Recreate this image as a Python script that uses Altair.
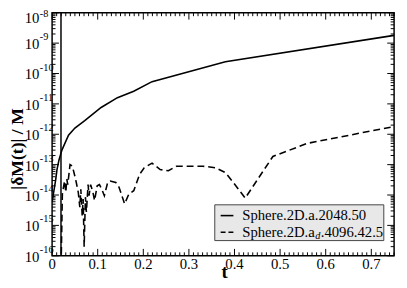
import altair as alt
import pandas as pd

# ---- data ----
solid_t = [0.000, 0.008, 0.0107, 0.015, 0.0215, 0.036, 0.050, 0.0716, 0.1075,
           0.1433, 0.179, 0.2192, 0.380, 0.750]
solid_v = [5.9e-15, 3.3e-14, 6.9e-14, 1.4e-13, 3.0e-13, 9.3e-13, 1.6e-12, 2.8e-12,
           7.6e-12, 1.6e-11, 2.6e-11, 5.4e-11, 2.45e-10, 1.8e-9]

dashed_t = [0.0190, 0.0225, 0.0273, 0.0301, 0.0322, 0.0344, 0.0393, 0.0445, 0.0516,
            0.0574, 0.0608, 0.0630, 0.0660, 0.0681, 0.0703, 0.0731, 0.0752, 0.0789,
            0.0810, 0.0845, 0.0896, 0.0931, 0.0989, 0.1038, 0.1090, 0.1146, 0.1219,
            0.1274, 0.1397, 0.1468, 0.1590, 0.1683, 0.1790, 0.1919, 0.2020, 0.2192,
            0.2370, 0.2551, 0.2729, 0.3303, 0.3589, 0.3804, 0.3982, 0.4234, 0.4842,
            0.5594, 0.750]
dashed_v = [1e-17, 1.07e-14, 2.9e-14, 1.23e-14, 3.3e-14, 2.2e-14, 1.0e-13, 8.9e-14, 3.3e-14,
            1.23e-14, 4.0e-15, 1.55e-14, 2.1e-15, 7.4e-15, 2.0e-16, 8.5e-15, 2.75e-15, 2.2e-14,
            9.5e-15, 2.2e-14, 1.23e-14, 6.6e-15, 2.0e-14, 2.2e-14, 1.55e-14, 9.5e-15, 2.6e-14,
            2.9e-14, 2.6e-14, 1.8e-14, 5.1e-15, 1.07e-14, 1.38e-14, 4.8e-14, 7.9e-14, 1.12e-13,
            6.9e-14, 6.3e-14, 8.9e-14, 8.9e-14, 7.9e-14, 5.4e-14, 2.5e-14, 7.9e-15, 1.86e-13,
            5.0e-13, 1.8e-12]

spike_t = [0.0195]

x_major = [0.0, 0.1, 0.2, 0.3, 0.4, 0.5, 0.6, 0.7]
x_labels = ["0", "0.1", "0.2", "0.3", "0.4", "0.5", "0.6", "0.7"]
x_minor = [i / 100 for i in range(0, 76) if i % 10 != 0]
decades = [-16, -15, -14, -13, -12, -11, -10, -9, -8]
y_major = [10.0 ** e for e in decades]
y_minor = [m * 10.0 ** e for e in decades[:-1] for m in range(2, 10)]

legend_solid = "Sphere.2D.a.2048.50"
legend_dash_parts = ["Sphere.2D.a", "d", ".4096.42.5"]
y_title = "|δM(t)| / M"
x_title = "t"

W, H = 349, 248
FONT = "Liberation Serif"

xs = alt.Scale(domain=[0, 0.75], nice=False, zero=False)
ys = alt.Scale(type="log", domain=[1e-16, 1e-8], nice=False)

solid_df = pd.DataFrame({"t": solid_t, "v": solid_v})
dashed_df = pd.DataFrame({"t": dashed_t, "v": dashed_v})

solid = alt.Chart(solid_df).mark_line(color="black", strokeWidth=1.6, clip=True).encode(
    x=alt.X("t:Q", scale=xs, axis=None),
    y=alt.Y("v:Q", scale=ys, axis=None),
)
dashed = alt.Chart(dashed_df).mark_line(color="black", strokeWidth=1.6, strokeDash=[7, 4],
                                        clip=True).encode(
    x=alt.X("t:Q", scale=xs, axis=None),
    y=alt.Y("v:Q", scale=ys, axis=None),
)
spike = alt.Chart(pd.DataFrame({"t": spike_t})).mark_rule(color="black", strokeWidth=1.5).encode(
    x=alt.X("t:Q", scale=xs, axis=None)
)

def xticks(vals, length):
    df = pd.DataFrame({"t": vals})
    b = alt.Chart(df).mark_rule(color="black", strokeWidth=1).encode(
        x=alt.X("t:Q", scale=xs, axis=None), y=alt.value(H), y2=alt.value(H - length))
    t = alt.Chart(df).mark_rule(color="black", strokeWidth=1).encode(
        x=alt.X("t:Q", scale=xs, axis=None), y=alt.value(0), y2=alt.value(length))
    return [b, t]

def yticks(vals, length):
    df = pd.DataFrame({"v": vals})
    l = alt.Chart(df).mark_rule(color="black", strokeWidth=1).encode(
        y=alt.Y("v:Q", scale=ys, axis=None), x=alt.value(0), x2=alt.value(length))
    r = alt.Chart(df).mark_rule(color="black", strokeWidth=1).encode(
        y=alt.Y("v:Q", scale=ys, axis=None), x=alt.value(W), x2=alt.value(W - length))
    return [l, r]

xlab_df = pd.DataFrame({"t": x_major, "lab": x_labels})
xlab = alt.Chart(xlab_df).mark_text(
    font=FONT, fontSize=15, align="center", baseline="middle").encode(
    x=alt.X("t:Q", scale=xs, axis=None), y=alt.value(H + 9), text="lab:N")

ylab_df = pd.DataFrame({"v": y_major, "exp": [str(e) for e in decades]})
ylab_base = alt.Chart(ylab_df).transform_filter("datum.v < 5e-9").mark_text(
    font=FONT, fontSize=15, align="right", baseline="middle", dy=1).encode(
    y=alt.Y("v:Q", scale=ys, axis=None), x=alt.value(-13), text=alt.value("10"))
ylab_exp = alt.Chart(ylab_df).transform_filter("datum.v < 5e-9").mark_text(
    font=FONT, fontSize=10.5, align="left", baseline="middle", dy=-6).encode(
    y=alt.Y("v:Q", scale=ys, axis=None), x=alt.value(-12.5), text="exp:N")
ylab_base_top = alt.Chart(ylab_df).transform_filter("datum.v > 5e-9").mark_text(
    font=FONT, fontSize=15, align="right", baseline="middle", dy=5).encode(
    y=alt.Y("v:Q", scale=ys, axis=None), x=alt.value(-13), text=alt.value("10"))
ylab_exp_top = alt.Chart(ylab_df).transform_filter("datum.v > 5e-9").mark_text(
    font=FONT, fontSize=10.5, align="left", baseline="middle", dy=1).encode(
    y=alt.Y("v:Q", scale=ys, axis=None), x=alt.value(-12.5), text="exp:N")

one = pd.DataFrame({"k": [0]})
ytitle = alt.Chart(pd.DataFrame({"s": [y_title]})).mark_text(
    font=FONT, fontSize=18, fontWeight="bold", angle=270, align="center",
    baseline="middle").encode(
    x=alt.value(-35), y=alt.value(139), text="s:N")
xtitle = alt.Chart(pd.DataFrame({"s": [x_title]})).mark_text(
    font=FONT, fontSize=19, fontWeight="bold", align="center", baseline="alphabetic").encode(
    x=alt.value(176), y=alt.value(271), text="s:N")

# legend box
LX0, LX1, LY0, LY1 = 166, 338.5, 196, 232.5
box = alt.Chart(one).mark_rect(fill="#e8e8e8", stroke="#444444", strokeWidth=1).encode(
    x=alt.value(LX0), x2=alt.value(LX1), y=alt.value(LY0), y2=alt.value(LY1))
ly1, ly2 = 207, 224
sym1 = alt.Chart(one).mark_rule(color="black", strokeWidth=1.6).encode(
    x=alt.value(172), x2=alt.value(185), y=alt.value(ly1))
sym2 = alt.Chart(one).mark_rule(color="black", strokeWidth=1.6, strokeDash=[5, 3]).encode(
    x=alt.value(172), x2=alt.value(185), y=alt.value(ly2))
tx0 = 194
fs = 15
lab1 = alt.Chart(pd.DataFrame({"s": [legend_solid]})).mark_text(
    font=FONT, fontSize=fs, align="left", baseline="middle").encode(
    x=alt.value(tx0), y=alt.value(ly1), text="s:N")
w_a = 4.943 * fs
lab2a = alt.Chart(pd.DataFrame({"s": [legend_dash_parts[0]]})).mark_text(
    font=FONT, fontSize=fs, align="left", baseline="middle").encode(
    x=alt.value(tx0), y=alt.value(ly2), text="s:N")
lab2b = alt.Chart(pd.DataFrame({"s": [legend_dash_parts[1]]})).mark_text(
    font=FONT, fontSize=10.5, fontStyle="italic", align="left", baseline="middle").encode(
    x=alt.value(tx0 + w_a + 0.3), y=alt.value(ly2 + 4), text="s:N")
lab2c = alt.Chart(pd.DataFrame({"s": [legend_dash_parts[2]]})).mark_text(
    font=FONT, fontSize=fs, align="left", baseline="middle").encode(
    x=alt.value(tx0 + w_a + 6.0), y=alt.value(ly2), text="s:N")

layers = [solid, dashed, spike]
layers += xticks(x_major, 7) + xticks(x_minor, 3.5)
layers += yticks(y_major, 7) + yticks(y_minor, 3.5)
layers += [xlab, ylab_base, ylab_exp, ylab_base_top, ylab_exp_top, ytitle, xtitle,
           box, sym1, sym2, lab1, lab2a, lab2b, lab2c]

chart = alt.layer(*layers).properties(
    width=W, height=H,
    background="white",
    autosize=alt.AutoSizeParams(type="none"),
    padding={"left": 45, "top": 2, "right": 5, "bottom": 28},
).configure_view(stroke="black", strokeWidth=1.5)

chart.save("out.html", embed_options={"renderer": "svg", "actions": False})
